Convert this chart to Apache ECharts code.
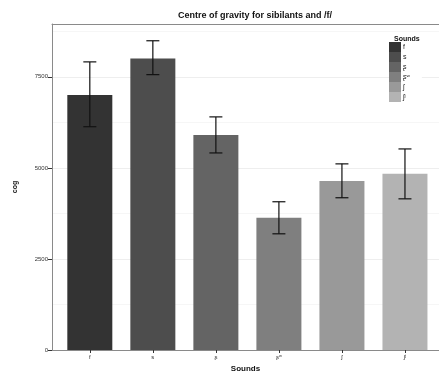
<!DOCTYPE html>
<html>
<head>
<meta charset="utf-8">
<script src="https://cdn.jsdelivr.net/npm/echarts@6/dist/echarts.min.js"></script>
<style>
  html, body { margin: 0; padding: 0; background: #fff; }
  #chart { width: 439px; height: 372px; }
</style>
</head>
<body>
<div id="chart"></div>
<script>
// sounds and their centre-of-gravity means with error bar limits
const sounds = ['f', 's', 'ʂ', 'ʂʷ', 'ʃ', 'ʃʲ'];
const cogMean = [7000, 8000, 5900, 3630, 4640, 4840];
const errLow = [6130, 7560, 5410, 3190, 4180, 4150];
const errHigh = [7910, 8490, 6400, 4070, 5110, 5520];
const fills = ['#333333', '#4d4d4d', '#646464', '#7f7f7f', '#999999', '#b3b3b3'];
const yTicks = [0, 2500, 5000, 7500];

const chart = echarts.init(document.getElementById('chart'));
const font = 'Liberation Sans, Arial, sans-serif';

const barSeries = sounds.map((s, i) => ({
  name: s,
  type: 'bar',
  barWidth: 45,
  barGap: '-100%',
  itemStyle: { color: fills[i] },
  data: [[i + 1, cogMean[i]]],
  z: 2
}));

const errSeries = {
  type: 'custom',
  z: 5,
  data: sounds.map((s, i) => [i + 1, errLow[i], errHigh[i]]),
  renderItem: (params, api) => {
    const x = api.value(0);
    const lo = api.coord([x, api.value(1)]);
    const hi = api.coord([x, api.value(2)]);
    const half = 6.5;
    const style = { stroke: '#111', lineWidth: 1.2 };
    return {
      type: 'group',
      children: [
        { type: 'line', shape: { x1: lo[0], y1: lo[1], x2: hi[0], y2: hi[1] }, style },
        { type: 'line', shape: { x1: lo[0] - half, y1: lo[1], x2: lo[0] + half, y2: lo[1] }, style },
        { type: 'line', shape: { x1: hi[0] - half, y1: hi[1], x2: hi[0] + half, y2: hi[1] }, style }
      ]
    };
  }
};

const option = {
  animation: false,
  textStyle: { fontFamily: font },
  title: [
    {
      text: 'Centre of gravity for sibilants and /f/',
      left: 250, top: 6, textAlign: 'center',
      textStyle: { fontSize: 9, fontWeight: 'bold', color: '#111', fontFamily: font }
    },
    {
      text: 'Sounds',
      left: 389, top: 31,
      textStyle: { fontSize: 7, fontWeight: 'bold', color: '#111', fontFamily: font }
    }
  ],
  legend: {
    orient: 'vertical',
    left: 389, top: 42,
    itemWidth: 12, itemHeight: 10, itemGap: 0,
    icon: 'rect',
    padding: [0, 12, 0, 0],
    backgroundColor: '#fff',
    data: sounds,
    textStyle: { fontSize: 7, color: '#222', padding: [0, 0, 0, -3] },
    selectedMode: false
  },
  grid: {
    left: 52, right: 0, top: 24, bottom: 22,
    outerBoundsMode: 'none'
  },
  xAxis: [
    {
      type: 'value',
      min: 0.4, max: 6.54,
      name: 'Sounds', nameLocation: 'middle', nameGap: 13,
      nameTextStyle: { fontSize: 8, fontWeight: 'bold', color: '#111' },
      axisLine: { show: true, lineStyle: { color: '#8a8a8a' } },
      axisTick: { show: true, customValues: [1, 2, 3, 4, 5, 6], length: 3, lineStyle: { color: '#333' } },
      axisLabel: {
        customValues: [1, 2, 3, 4, 5, 6], fontSize: 6, color: '#333', margin: 4,
        formatter: v => sounds[Math.round(v) - 1]
      },
      splitLine: { show: false }
    },
    {
      // top border of the panel
      type: 'value', position: 'top',
      min: 0.4, max: 6.54,
      axisLine: { show: true, lineStyle: { color: '#8a8a8a' } },
      axisTick: { show: false }, axisLabel: { show: false }, splitLine: { show: false }
    }
  ],
  yAxis: {
    type: 'value',
    min: 0, max: 8950, interval: 2500,
    name: 'cog', nameLocation: 'middle', nameGap: 33, nameRotate: 90,
    nameTextStyle: { fontSize: 7, fontWeight: 'bold', color: '#111' },
    axisLine: { show: true, lineStyle: { color: '#8a8a8a' } },
    axisTick: { show: true, customValues: yTicks, length: 4, lineStyle: { color: '#333' } },
    axisLabel: {
      customValues: yTicks, fontSize: 6, color: '#333', margin: 4,
      formatter: v => String(v)
    },
    splitLine: { show: true, lineStyle: { color: '#eeeeee', width: 1 } },
    minorTick: { show: false, splitNumber: 2 },
    minorSplitLine: { show: true, lineStyle: { color: '#f6f6f6', width: 1 } }
  },
  series: [...barSeries, errSeries]
};

chart.setOption(option);
</script>
</body>
</html>
